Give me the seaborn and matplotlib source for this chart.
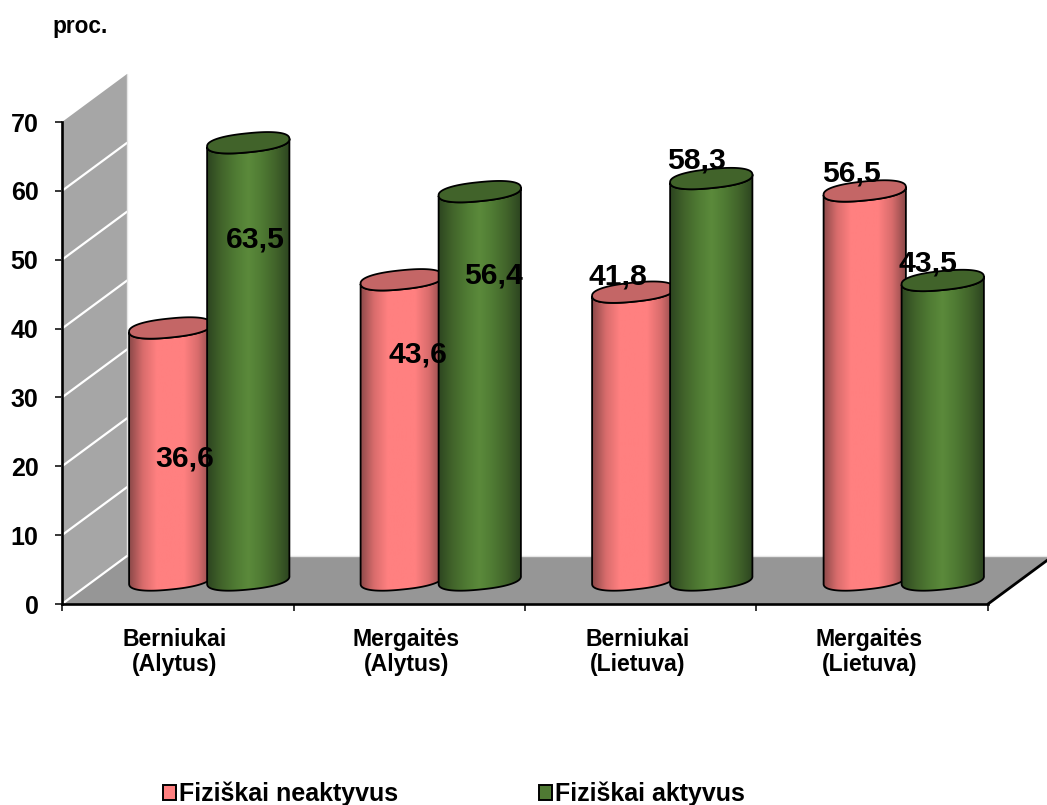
import numpy as np
import pandas as pd
import matplotlib
matplotlib.use("Agg")
import matplotlib.pyplot as plt
from matplotlib.patches import Patch, Polygon
from matplotlib.colors import LinearSegmentedColormap
import seaborn as sns

# Survey data
categories = ["Berniukai\n(Alytus)", "Mergaitės\n(Alytus)", "Berniukai\n(Lietuva)", "Mergaitės\n(Lietuva)"]
series_names = ["Fiziškai neaktyvus", "Fiziškai aktyvus"]
inactive_values = [36.6, 43.6, 41.8, 56.5]
active_values = [63.5, 56.4, 58.3, 43.5]
y_tick_values = [0, 10, 20, 30, 40, 50, 60, 70]

# Label placement relative to each cylinder's top centre, in pixels
inactive_label_offsets = [(14, -131), (16, -75), (-15, 16), (-13, 17)]
active_label_offsets = [(7, -97), (14, -84), (-15, 18), (-15, 17)]

# Styling
W, H = 1047, 805
AX_L, AX_R, AX_T, AX_B = 62, 988, 122, 604
DEPTH_X, DEPTH_Y = 65, 48
BAR_SHIFT_X, BAR_SHIFT_Y = 31.5, 24
BASE_MARGIN = 5
FONT = "Liberation Sans"
body_colors = {
    series_names[0]: ["#8a4848", "#d86c6c", "#ff8080", "#ff8080", "#ff8080", "#d86c6c", "#8a4848"],
    series_names[1]: ["#2c4420", "#41632a", "#4f7a33", "#5b8a3b", "#4f7a33", "#41632a", "#2c4420"],
}
lid_colors = {series_names[0]: "#c46666", series_names[1]: "#41632a"}
legend_colors = {series_names[0]: "#ff8080", series_names[1]: "#4f7a33"}

sns.set_theme(style="white")
plt.rcParams["font.family"] = [FONT, "DejaVu Sans"]
plt.rcParams["font.weight"] = "bold"

fig = plt.figure(figsize=(W / 100, H / 100), dpi=100, facecolor="white")


def axes_rect(left, right, top, bottom):
    return [left / W, 1 - bottom / H, (right - left) / W, (bottom - top) / H]


# Front plane: axes, side wall and floor
ax = fig.add_axes(axes_rect(AX_L, AX_R, AX_T, AX_B))
ax.set_xlim(-0.5, 3.5)
ax.set_ylim(0, 70)
ax.patch.set_visible(False)
px_x = 4 / (AX_R - AX_L)
px_y = 70 / (AX_B - AX_T)
dx, dy = DEPTH_X * px_x, DEPTH_Y * px_y

ax.add_patch(Polygon([(-0.5, 0), (-0.5 + dx, dy), (-0.5 + dx, 70 + dy), (-0.5, 70)],
                     closed=True, fc="#a6a6a6", ec="none", clip_on=False, zorder=1))
ax.add_patch(Polygon([(-0.5, 0), (-0.5 + dx, dy), (3.5 + dx, dy), (3.5, 0)],
                     closed=True, fc="#969696", ec="none", clip_on=False, zorder=1))
for v in y_tick_values[:-1]:
    ax.plot([-0.5, -0.5 + dx], [v, v + dy], color="white", lw=1.6, clip_on=False, zorder=2)
ax.plot([-0.5 + dx, -0.5 + dx], [dy, 70 + dy], color="#e6e6e6", lw=1.0, clip_on=False, zorder=2)
ax.plot([-0.5 + dx, 3.5 + dx], [dy, dy], color="#e6e6e6", lw=1.0, clip_on=False, zorder=2)
ax.plot([3.5, 3.5 + dx], [0, dy], color="black", lw=2.0, clip_on=False, zorder=3)

for side in ("top", "right"):
    ax.spines[side].set_visible(False)
for side in ("left", "bottom"):
    ax.spines[side].set_linewidth(1.9)
    ax.spines[side].set_color("black")
    ax.spines[side].set_zorder(4)

ax.set_yticks(y_tick_values)
ax.set_yticklabels([str(v) for v in y_tick_values], fontsize=18, fontweight="bold", color="black")
ax.tick_params(axis="y", which="major", left=True, length=5, width=1.1, color="black", pad=12)
ax.set_xticks(np.arange(-0.5, 4, 1))
ax.set_xticklabels([""] * 5)
ax.tick_params(axis="x", which="major", bottom=True, length=5, width=1.1, color="black")
ax.set_xticks(np.arange(4) - 0.012, minor=True)
ax.set_xticklabels(categories, minor=True, fontsize=16.6, fontweight="bold", color="black",
                   linespacing=1.16)
ax.tick_params(axis="x", which="minor", bottom=False, length=0, pad=17)

# Cylinders sit half way back on the floor
bar_ax = fig.add_axes(axes_rect(AX_L + BAR_SHIFT_X, AX_R + BAR_SHIFT_X, AX_T - BAR_SHIFT_Y,
                                AX_B - BAR_SHIFT_Y + BASE_MARGIN * (AX_B - AX_T) / 70))
df = pd.DataFrame({
    "grupe": categories * 2,
    "proc": inactive_values + active_values,
    "aktyvumas": [series_names[0]] * 4 + [series_names[1]] * 4,
})
sns.barplot(data=df, x="grupe", y="proc", hue="aktyvumas", hue_order=series_names, order=categories,
            palette=legend_colors, width=0.674, gap=-0.06, legend=False, errorbar=None, ax=bar_ax)
bar_ax.set_axis_off()
bar_ax.patch.set_visible(False)

TILT = np.deg2rad(5.8)
LID_MINOR_PX = 9.5
ROUNDNESS = 0.85
t = np.linspace(0, 2 * np.pi, 181)


def ellipse_points(cx, cy, half_width_px, tt):
    """Tilted, slightly squared ellipse at (cx, cy) in data units, with sizes given in pixels."""
    ex = half_width_px * np.sign(np.cos(tt)) * np.abs(np.cos(tt)) ** ROUNDNESS
    ey = LID_MINOR_PX * np.sign(np.sin(tt)) * np.abs(np.sin(tt)) ** ROUNDNESS
    rx = ex * np.cos(TILT) - ey * np.sin(TILT)
    ry = ex * np.sin(TILT) + ey * np.cos(TILT)
    return np.column_stack([cx + rx * px_x, cy + ry * px_y])


containers = list(bar_ax.containers)
all_values = [inactive_values, active_values]
all_offsets = [inactive_label_offsets, active_label_offsets]
for s, (name, container) in enumerate(zip(series_names, containers)):
    cmap = LinearSegmentedColormap.from_list(name, body_colors[name])
    gradient = np.linspace(0, 1, 256).reshape(1, -1)
    for i, bar in enumerate(container):
        x0 = bar.get_x()
        w = bar.get_width()
        top = bar.get_height()
        cx = x0 + w / 2
        half_px = w / 2 / px_x
        bar.set_visible(False)

        # Body outline: lower half of the base ellipse joined to the lower half of the lid
        tt_low = np.linspace(np.pi, 2 * np.pi, 91)
        base_arc = ellipse_points(cx, 0, half_px, tt_low)
        lid_arc = ellipse_points(cx, top, half_px, tt_low)[::-1]
        outline = np.vstack([base_arc, lid_arc])
        z = 5 + s * 5 + i * 0.1

        body = Polygon(outline, closed=True, fc="none", ec="black", lw=1.3, zorder=z + 0.2)
        bar_ax.add_patch(body)
        im = bar_ax.imshow(gradient, cmap=cmap, aspect="auto", zorder=z,
                           extent=(x0, x0 + w, -BASE_MARGIN, top + 3))
        im.set_clip_path(body)

        lid = Polygon(ellipse_points(cx, top, half_px, t), closed=True, fc=lid_colors[name],
                      ec="black", lw=1.3, zorder=z + 0.3)
        bar_ax.add_patch(lid)

        label = f"{all_values[s][i]:.1f}".replace(".", ",")
        bar_ax.annotate(label, xy=(cx, top), xytext=all_offsets[s][i], textcoords="offset pixels",
                        ha="center", va="center", fontsize=21.7, fontweight="bold", color="black",
                        zorder=30, annotation_clip=False)

bar_ax.set_xlim(-0.5, 3.5)
bar_ax.set_ylim(-BASE_MARGIN, 70)

fig.text(52 / W, 1 - 26 / H, "proc.", ha="left", va="center", fontsize=16.3, fontweight="bold", color="black")

handles = [Patch(facecolor=legend_colors[n], edgecolor="black", linewidth=1.4, label=n) for n in series_names]
fig.legend(handles=handles, ncol=2, loc="center left", bbox_to_anchor=(163 / W, 1 - 794 / H), frameon=False,
           prop={"family": FONT, "weight": "bold", "size": 18}, labelcolor="black", handlelength=0.52,
           handleheight=0.52, handletextpad=0.12, columnspacing=5.64, borderpad=0, borderaxespad=0)

fig.savefig("out.png", dpi=100, facecolor="white")
